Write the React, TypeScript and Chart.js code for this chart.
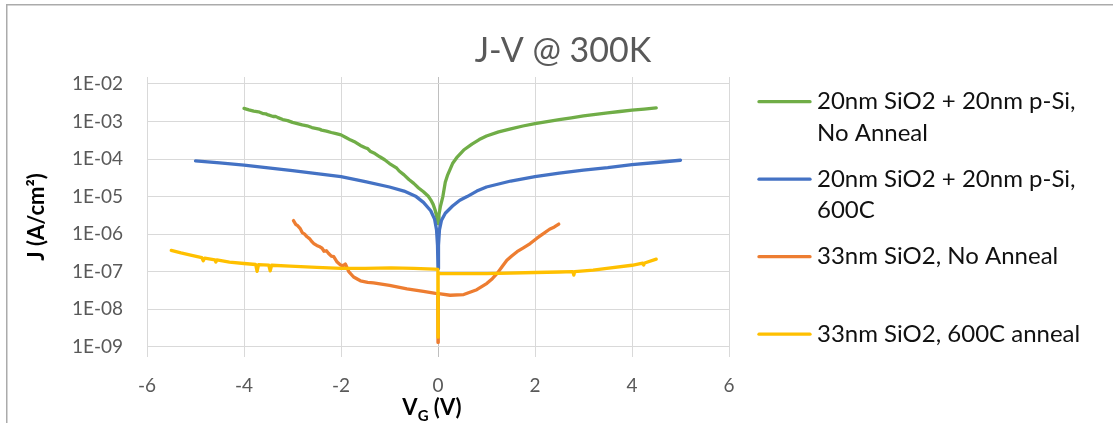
import React, { useEffect, useRef } from 'react';
import { Chart, registerables } from 'chart.js';

Chart.register(...registerables);

// Axis ticks
const X_TICKS = [-6, -4, -2, 0, 2, 4, 6];
const Y_TICKS = [1e-9, 1e-8, 1e-7, 1e-6, 1e-5, 1e-4, 1e-3, 1e-2];
const Y_MIN = 5.32e-10;
const Y_MAX = 1.536e-2;

// 20nm SiO2 + 20nm p-Si, no anneal
const PSI_RAW_V = [
  -4.0, -3.9, -3.8, -3.7, -3.6, -3.55, -3.5, -3.4, -3.35, -3.3, -3.2, -3.1, -3.0, -2.9, -2.8, -2.7,
  -2.6, -2.5, -2.45, -2.4, -2.3, -2.2, -2.1, -2.0, -1.9, -1.8, -1.7, -1.6, -1.5, -1.45, -1.4, -1.3,
  -1.2, -1.1, -1.0, -0.9, -0.85, -0.8, -0.7, -0.6, -0.5, -0.4, -0.3, -0.2, -0.15, -0.1, -0.06, -0.03, 0,
  0.02, 0.05, 0.1, 0.15, 0.2, 0.3, 0.4, 0.53, 0.7, 0.85, 1.0, 1.25, 1.5, 1.75, 2.0, 2.25, 2.5, 2.75,
  3.0, 3.25, 3.5, 3.75, 4.0, 4.25, 4.5,
];
const PSI_RAW_J = [
  2.24e-3, 2.05e-3, 1.9e-3, 1.82e-3, 1.62e-3, 1.6e-3, 1.5e-3, 1.36e-3, 1.37e-3, 1.27e-3, 1.13e-3, 1.06e-3, 9.5e-4, 8.8e-4, 8.1e-4, 7.7e-4,
  6.9e-4, 6.5e-4, 6.3e-4, 5.9e-4, 5.55e-4, 5.1e-4, 4.75e-4, 4.4e-4, 3.75e-4, 3.2e-4, 2.8e-4, 2.3e-4, 2.0e-4, 1.9e-4, 1.62e-4, 1.4e-4,
  1.15e-4, 9.6e-5, 7.6e-5, 6.3e-5, 5.7e-5, 4.8e-5, 3.8e-5, 2.85e-5, 2.25e-5, 1.7e-5, 1.35e-5, 1.02e-5, 8.2e-6, 6.2e-6, 4.4e-6, 3.1e-6, 1.9e-6,
  3.3e-6, 5.5e-6, 1.0e-5, 2.4e-5, 3.8e-5, 7.6e-5, 1.15e-4, 1.74e-4, 2.5e-4, 3.3e-4, 4.1e-4, 5.3e-4, 6.4e-4, 7.6e-4, 8.8e-4, 1.0e-3, 1.12e-3, 1.26e-3,
  1.42e-3, 1.56e-3, 1.7e-3, 1.85e-3, 2.0e-3, 2.15e-3, 2.3e-3,
];

// 20nm SiO2 + 20nm p-Si, 600C
const PSI_600_V = [
  -5.0, -4.5, -4.0, -3.5, -3.0, -2.5, -2.0, -1.5, -1.0, -0.7, -0.45, -0.3, -0.15, -0.07, -0.03, -0.01, 0,
  0.01, 0.03, 0.07, 0.15, 0.3, 0.45, 0.6, 0.8, 1.0, 1.5, 2.0, 2.5, 3.0, 3.5, 4.0, 4.5, 5.0,
];
const PSI_600_J = [
  8.9e-5, 7.9e-5, 6.9e-5, 5.8e-5, 4.9e-5, 4.1e-5, 3.4e-5, 2.5e-5, 1.8e-5, 1.4e-5, 1.0e-5, 7.0e-6, 4.2e-6, 2.5e-6, 1.3e-6, 5e-7, 1.2e-7,
  5e-7, 1.3e-6, 2.3e-6, 3.6e-6, 5.6e-6, 8.0e-6, 1.0e-5, 1.4e-5, 1.8e-5, 2.6e-5, 3.4e-5, 4.2e-5, 5.1e-5, 5.9e-5, 7.1e-5, 8.1e-5, 9.3e-5,
];

// 33nm SiO2, no anneal
const OX33_RAW_V = [
  -2.98, -2.93, -2.9, -2.84, -2.8, -2.75, -2.7, -2.65, -2.6, -2.56, -2.5, -2.45, -2.39, -2.35, -2.3, -2.26,
  -2.2, -2.15, -2.08, -2.01, -1.95, -1.91, -1.84, -1.74, -1.6, -1.45, -1.33, -1.0, -0.64, -0.3, -0.05, -0.005, 0,
  0.005, 0.05, 0.25, 0.53, 0.8, 1.01, 1.12, 1.22, 1.32, 1.42, 1.52, 1.63, 1.76, 1.9, 2.04, 2.18, 2.3, 2.4, 2.49,
];
const OX33_RAW_J = [
  2.3e-6, 1.8e-6, 1.7e-6, 1.4e-6, 1.1e-6, 1.0e-6, 8.5e-7, 7.6e-7, 6.3e-7, 5.6e-7, 5.0e-7, 4.7e-7, 4.2e-7, 3.5e-7, 3.6e-7, 3.1e-7,
  2.6e-7, 2.5e-7, 1.8e-7, 1.5e-7, 1.45e-7, 1.6e-7, 1.0e-7, 7.2e-8, 5.7e-8, 5.2e-8, 5.0e-8, 4.3e-8, 3.5e-8, 3.0e-8, 2.65e-8, 2.6e-8, 1.3e-9,
  2.6e-8, 2.55e-8, 2.35e-8, 2.45e-8, 3.3e-8, 4.9e-8, 6.5e-8, 9.0e-8, 1.35e-7, 2.0e-7, 2.6e-7, 3.4e-7, 4.3e-7, 5.6e-7, 7.8e-7, 1.05e-6, 1.35e-6, 1.55e-6, 1.85e-6,
];

// 33nm SiO2, 600C anneal
const OX33_600_V = [
  -5.5, -5.3, -5.1, -4.87, -4.84, -4.81, -4.6, -4.58, -4.56, -4.3, -4.0, -3.76, -3.73, -3.7, -3.49, -3.46, -3.43,
  -3.05, -2.5, -2.0, -1.5, -0.97, -0.5, -0.08, -0.003, 0,
  0.003, 0.05, 1.0, 2.0, 2.5, 2.78, 2.8, 2.82, 3.2, 3.48, 4.0, 4.22, 4.24, 4.26, 4.5,
];
const OX33_600_J = [
  3.7e-7, 3.15e-7, 2.75e-7, 2.35e-7, 1.95e-7, 2.3e-7, 2.07e-7, 1.8e-7, 2.05e-7, 1.8e-7, 1.65e-7, 1.55e-7, 1.02e-7, 1.53e-7, 1.5e-7, 1.05e-7, 1.48e-7,
  1.4e-7, 1.3e-7, 1.22e-7, 1.22e-7, 1.26e-7, 1.22e-7, 1.17e-7, 1.15e-7, 1.8e-9,
  9.2e-8, 8.9e-8, 8.9e-8, 9.5e-8, 9.8e-8, 1.0e-7, 8.1e-8, 1.0e-7, 1.1e-7, 1.23e-7, 1.48e-7, 1.68e-7, 1.5e-7, 1.7e-7, 2.15e-7,
];

const SERIES_LABELS = [
  ['20nm SiO2 + 20nm p-Si,', 'No Anneal'],
  ['20nm SiO2 + 20nm p-Si,', '600C'],
  ['33nm SiO2, No Anneal'],
  ['33nm SiO2, 600C anneal'],
];
const SERIES_COLORS = ['#70AD47', '#4472C4', '#ED7D31', '#FFC000'];

const CHART_TITLE = 'J-V @ 300K';
const Y_TITLE = 'J (A/cm\u00B2)';

const FONT = 'Lato, "Open Sans", sans-serif';

const toPoints = (v: number[], j: number[]) => v.map((x, i) => ({ x, y: j[i] }));

const formatDecade = (value: number) => {
  const e = Math.round(Math.log10(value));
  return '1E' + (e < 0 ? '-' : '+') + String(Math.abs(e)).padStart(2, '0');
};

// Frame, title, legend and axis titles drawn straight onto the canvas
const decorPlugin = {
  id: 'decor',
  beforeDraw(chart: Chart) {
    const { ctx } = chart;
    ctx.save();
    ctx.fillStyle = '#FFFFFF';
    ctx.fillRect(0, 0, chart.width, chart.height);
    ctx.fillStyle = '#ABABAB';
    ctx.fillRect(6, 4, chart.width - 6, 1.5);
    ctx.fillRect(6, 4, 1.5, chart.height - 4);
    ctx.restore();
  },
  afterDraw(chart: Chart) {
    const { ctx, chartArea } = chart;
    ctx.save();

    // chart title
    ctx.fillStyle = '#595959';
    ctx.font = `34px ${FONT}`;
    ctx.textAlign = 'center';
    ctx.textBaseline = 'alphabetic';
    ctx.fillText(CHART_TITLE, 563, 61.5);

    // y axis title
    ctx.save();
    ctx.translate(37, (chartArea.top + chartArea.bottom) / 2);
    ctx.rotate(-Math.PI / 2);
    ctx.fillStyle = '#000000';
    ctx.font = `bold 22px ${FONT}`;
    ctx.textAlign = 'center';
    ctx.textBaseline = 'middle';
    ctx.fillText(Y_TITLE, 0, 0);
    ctx.restore();

    // x axis title with subscript
    const mainFont = `bold 22px ${FONT}`;
    const subFont = `bold 15px ${FONT}`;
    ctx.font = mainFont;
    const wV = ctx.measureText('V').width;
    const wRest = ctx.measureText(' (V)').width;
    ctx.font = subFont;
    const wG = ctx.measureText('G').width;
    const total = wV + wG + wRest;
    let x = 432 - total / 2;
    const base = 414.5;
    ctx.fillStyle = '#000000';
    ctx.textAlign = 'left';
    ctx.textBaseline = 'alphabetic';
    ctx.font = mainFont;
    ctx.fillText('V', x, base);
    x += wV;
    ctx.font = subFont;
    ctx.fillText('G', x, base + 6);
    x += wG;
    ctx.font = mainFont;
    ctx.fillText(' (V)', x, base);

    // legend
    const legendTop = 101.7;
    const step = 77.5;
    const lineHeight = 31.5;
    ctx.font = `24px ${FONT}`;
    ctx.textBaseline = 'middle';
    SERIES_LABELS.forEach((lines, i) => {
      const y = legendTop + i * step;
      ctx.strokeStyle = SERIES_COLORS[i];
      ctx.lineWidth = 3.3;
      ctx.lineCap = 'round';
      ctx.beginPath();
      ctx.moveTo(759, y);
      ctx.lineTo(810, y);
      ctx.stroke();
      ctx.fillStyle = '#111111';
      lines.forEach((t, k) => ctx.fillText(t, 817, y + k * lineHeight));
    });

    ctx.restore();
  },
};

export default function App() {
  const canvasRef = useRef<HTMLCanvasElement | null>(null);

  useEffect(() => {
    if (!canvasRef.current) return;
    const series = [
      { v: PSI_RAW_V, j: PSI_RAW_J, order: 3 },
      { v: PSI_600_V, j: PSI_600_J, order: 2 },
      { v: OX33_RAW_V, j: OX33_RAW_J, order: 1 },
      { v: OX33_600_V, j: OX33_600_J, order: 0 },
    ];
    const chart = new Chart(canvasRef.current, {
      type: 'line',
      data: {
        datasets: series.map((s, i) => ({
          label: SERIES_LABELS[i].join(' '),
          data: toPoints(s.v, s.j),
          borderColor: SERIES_COLORS[i],
          backgroundColor: SERIES_COLORS[i],
          order: s.order,
        })),
      },
      options: {
        responsive: false,
        animation: false,
        events: [],
        layout: { padding: { left: 0, right: 384, top: 77, bottom: 0 } },
        plugins: {
          legend: { display: false },
          title: { display: false },
          tooltip: { enabled: false },
        },
        elements: {
          point: { radius: 0 },
          line: {
            borderWidth: 3.3,
            tension: 0,
            borderCapStyle: 'round',
            borderJoinStyle: 'round',
          },
        },
        scales: {
          x: {
            type: 'linear',
            min: -6,
            max: 6,
            afterBuildTicks: (scale: any) => {
              scale.ticks = X_TICKS.map((value) => ({ value }));
            },
            afterFit: (scale: any) => {
              scale.height = 66;
            },
            grid: {
              drawTicks: false,
              color: (c: any) => (c.tick && c.tick.value === 0 ? '#BFBFBF' : '#D9D9D9'),
              lineWidth: 1,
            },
            border: { display: false },
            ticks: {
              padding: 17,
              color: '#595959',
              font: { family: FONT, size: 19 },
              callback: (v: any) => String(v),
            },
          },
          y: {
            type: 'logarithmic',
            min: Y_MIN,
            max: Y_MAX,
            afterBuildTicks: (scale: any) => {
              scale.ticks = Y_TICKS.map((value) => ({ value }));
            },
            afterFit: (scale: any) => {
              scale.width = 147;
            },
            grid: { drawTicks: false, color: '#D9D9D9', lineWidth: 1 },
            border: { display: false },
            ticks: {
              padding: 24,
              color: '#595959',
              font: { family: FONT, size: 19 },
              callback: (v: any) => formatDecade(Number(v)),
            },
          },
        },
      },
      plugins: [decorPlugin],
    } as any);
    return () => chart.destroy();
  }, []);

  return (
    <div style={{ position: 'fixed', left: 0, top: 0, width: 1113, height: 423, background: '#fff' }}>
      <canvas ref={canvasRef} width={1113} height={423} style={{ display: 'block', width: 1113, height: 423 }} />
    </div>
  );
}
